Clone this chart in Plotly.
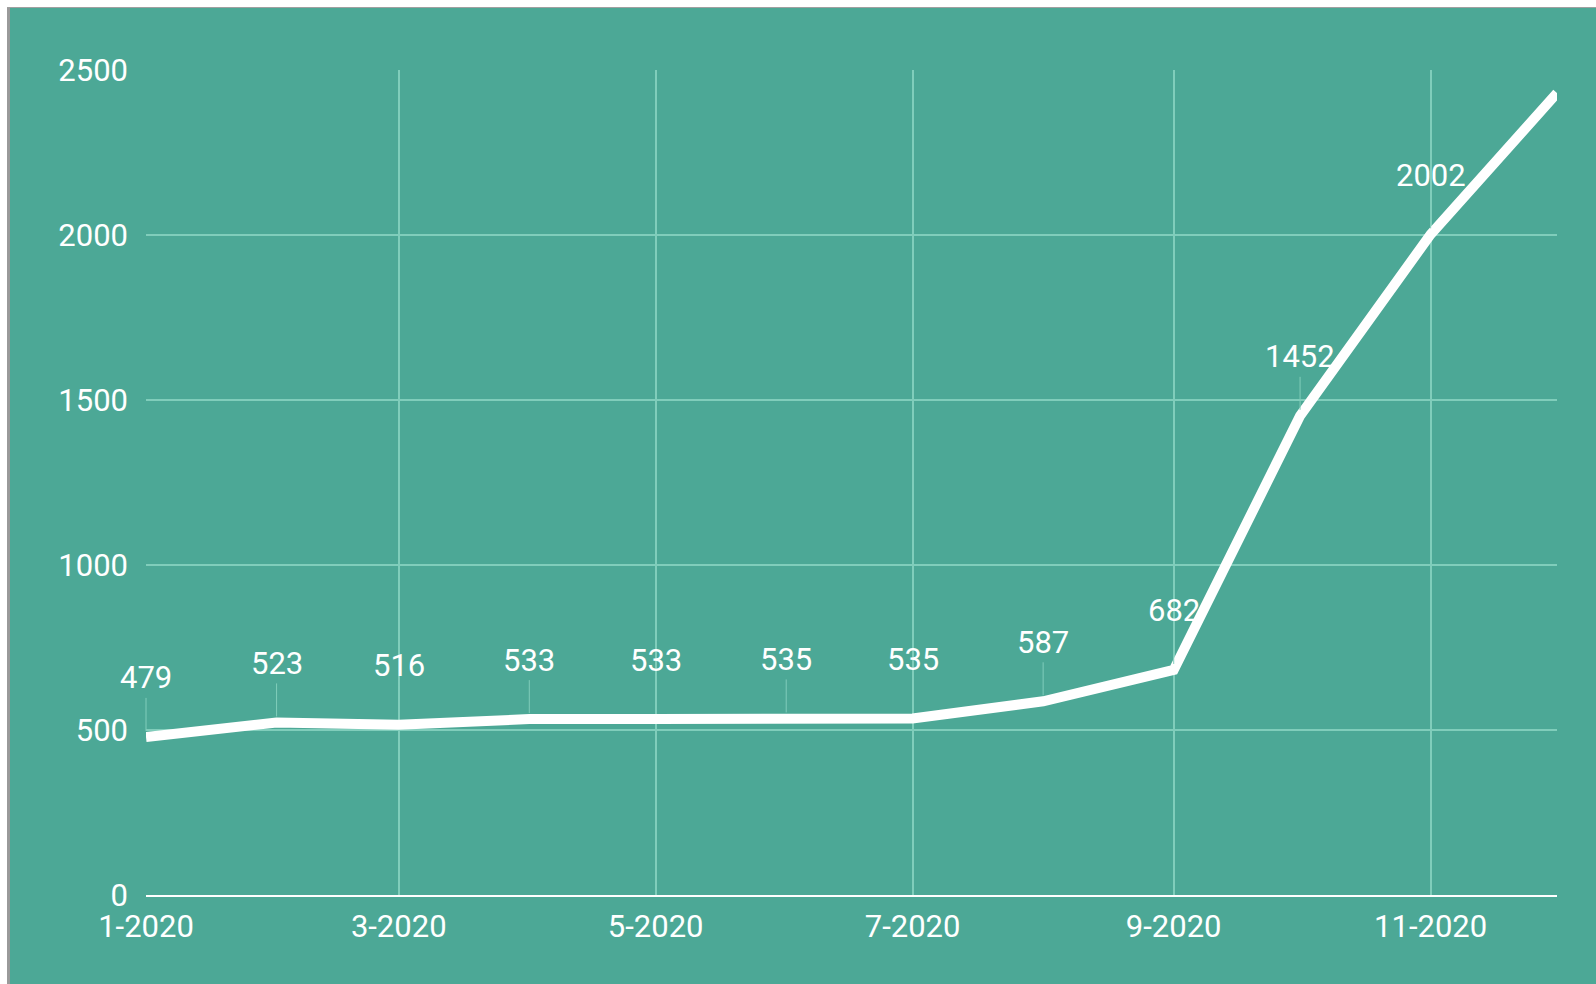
import plotly.graph_objects as go

months = ["2020-01-01", "2020-02-01", "2020-03-01", "2020-04-01", "2020-05-01", "2020-06-01",
          "2020-07-01", "2020-08-01", "2020-09-01", "2020-10-01", "2020-11-01", "2020-12-01"]
values = [479, 523, 516, 533, 533, 535, 535, 587, 682, 1452, 2002, 2430]
labels = ["479", "523", "516", "533", "533", "535", "535", "587", "682", "1452", "2002", ""]

TEAL = "#4CA896"
GRID = "#80CDBB"
W, H = 1596, 984
L, R, T, B = 146, 39, 70, 89
PW, PH = W - L - R, H - T - B
FS = 31

fig = go.Figure()
fig.add_trace(go.Scatter(
    x=months, y=values, mode="lines",
    line=dict(color="white", width=10),
    hoverinfo="x+y",
))

for m, v, lab in zip(months, values, labels):
    if not lab:
        continue
    fig.add_annotation(
        x=m, y=v, text=lab, showarrow=True, arrowhead=0, arrowwidth=1,
        arrowcolor=GRID, ax=0, ay=-59, standoff=6,
        font=dict(family="Roboto", size=FS, color="white"),
    )

def px_x(p):
    return (p - L) / PW

def px_y(p):
    return (H - B - p) / PH

# white strips at top and left, with thin gray edges
fig.add_shape(type="rect", xref="paper", yref="paper", x0=px_x(0), x1=px_x(W), y0=px_y(7), y1=px_y(0),
              fillcolor="white", line_width=0, layer="above")
fig.add_shape(type="rect", xref="paper", yref="paper", x0=px_x(0), x1=px_x(7), y0=px_y(H), y1=px_y(0),
              fillcolor="white", line_width=0, layer="above")
fig.add_shape(type="rect", xref="paper", yref="paper", x0=px_x(7), x1=px_x(10), y0=px_y(H), y1=px_y(7),
              fillcolor="#9A9A9A", line_width=0, layer="above")
fig.add_shape(type="rect", xref="paper", yref="paper", x0=px_x(7), x1=px_x(W), y0=px_y(8), y1=px_y(7),
              fillcolor="#A0A0A0", line_width=0, layer="above")

fig.update_layout(
    width=W, height=H,
    margin=dict(l=L, r=R, t=T, b=B, pad=0),
    paper_bgcolor=TEAL, plot_bgcolor=TEAL,
    showlegend=False,
    font=dict(family="Roboto", size=FS, color="white"),
    xaxis=dict(
        type="date", range=["2020-01-01", "2020-12-01"],
        dtick="M2", tick0="2020-01-01", tickformat="%-m-%Y",
        showgrid=True, gridcolor=GRID, gridwidth=2,
        showline=True, linecolor="white", linewidth=2,
        ticks="", ticklabelstandoff=3,
        tickfont=dict(family="Roboto", size=FS, color="white"),
        zeroline=False,
    ),
    yaxis=dict(
        range=[0, 2500], dtick=500, tick0=0,
        showgrid=True, gridcolor=GRID, gridwidth=2,
        showline=False, zeroline=False,
        ticks="", ticklabelstandoff=17,
        tickfont=dict(family="Roboto", size=FS, color="white"),
    ),
)

fig.write_html(
    "out.html",
    config={"displayModeBar": False},
    post_script="document.body.style.margin='0';document.body.style.overflow='hidden';",
)
